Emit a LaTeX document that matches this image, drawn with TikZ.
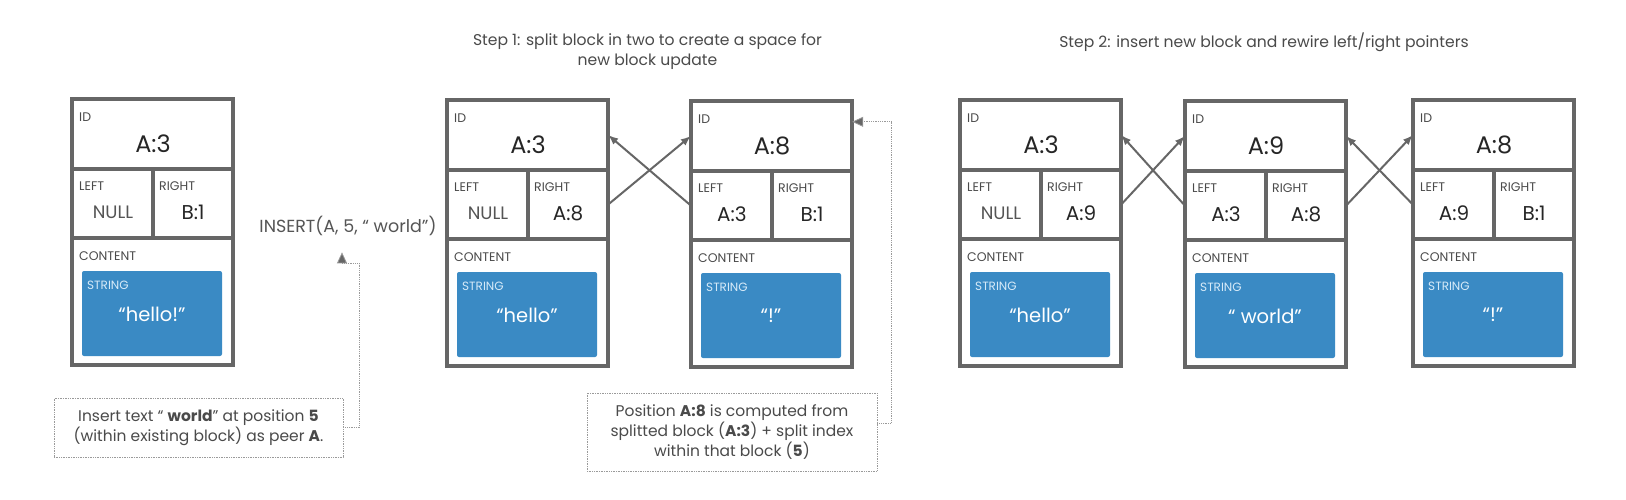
\documentclass[tikz,border=0pt]{standalone}
\usepackage{fontspec}
\setmainfont{Poppins}
\usepackage{tikz}
\usetikzlibrary{arrows.meta}
\definecolor{framegray}{HTML}{666666}
\definecolor{strblue}{HTML}{3A8AC4}
\definecolor{strlabel}{HTML}{D6EAF8}
\definecolor{txtgray}{HTML}{4A4A4A}
\definecolor{nullgray}{HTML}{555555}
\definecolor{dotgray}{HTML}{9A9A9A}

\newcommand{\nullval}{{\fontsize{18}{20}\selectfont\color{nullgray}NULL}}
\newcommand{\crdtblock}[7]{%
  \begin{scope}[shift={(#2,#3)}]
    \draw[frame] (0,0) rectangle (161,266);
    \draw[frame] (0,70) -- (161,70) (0,139) -- (161,139) (81,70) -- (81,139);
    \fill[strblue,rounded corners=2pt] (10,172) rectangle (150,257);
    \node[cell,minimum width=161pt,minimum height=70pt] (#1id) at (80.5,35) {};
    \node[cell,minimum width=81pt,minimum height=69pt] (#1l) at (40.5,104.5) {};
    \node[cell,minimum width=80pt,minimum height=69pt] (#1r) at (121,104.5) {};
    \node[tag] at (7,18) {ID};
    \node[idval] at (81,45) {#4};
    \node[tag] at (7,87) {LEFT};
    \node[tag] at (87,87) {RIGHT};
    \node[ptrval] at (41,113) {#5};
    \node[ptrval] at (121,113) {#6};
    \node[tag] at (7,157) {CONTENT};
    \node[strtag] at (15,186) {STRING};
    \node[strval] at (80,215) {#7};
  \end{scope}}

\begin{document}
\begin{tikzpicture}[x=1pt,y=-1pt]
	\tikzstyle{frame}=[draw=framegray,line width=4pt]
	\tikzstyle{cell}=[inner sep=0pt]
	\tikzstyle{tag}=[anchor=west,inner sep=0pt,text=txtgray,font=\fontsize{12.5}{14}\selectfont]
	\tikzstyle{strtag}=[anchor=west,inner sep=0pt,text=strlabel,font=\fontsize{12}{14}\selectfont]
	\tikzstyle{idval}=[inner sep=0pt,text=black!85,font=\fontsize{24}{28}\selectfont]
	\tikzstyle{ptrval}=[inner sep=0pt,text=black!85,font=\fontsize{20}{24}\selectfont]
	\tikzstyle{strval}=[inner sep=0pt,text=white,font=\fontsize{19.5}{22}\selectfont]
	\tikzstyle{title}=[align=center,text=txtgray,font=\fontsize{15.6}{20}\selectfont]
	\tikzstyle{note}=[draw=dotgray,densely dotted,line width=0.7pt,align=center,text=txtgray,font=\fontsize{15.5}{20}\selectfont]
	\tikzstyle{ptr}=[color=framegray,line width=2pt,-{Latex[length=10pt,width=8pt]}]
	\tikzstyle{dotlink}=[draw=dotgray,densely dotted,line width=0.8pt,-{Triangle[length=11pt,width=10pt,fill=framegray]}]

	\fill[white] (0,0) rectangle (1626,499);

	\node[title] (step1) at (647.5,51.5) {Step 1: split block in two to create a space for\\new block update};
	\node[title] (step2) at (1264,42) {Step 2: insert new block and rewire left/right pointers};

	\crdtblock{b0}{72}{99}{A:3}{\nullval}{B:1}{“hello!”}
	\crdtblock{b1}{447}{100}{A:3}{\nullval}{A:8}{“hello”}
	\crdtblock{b2}{691}{101}{A:8}{A:3}{B:1}{“!”}
	\crdtblock{b3}{960}{100}{A:3}{\nullval}{A:9}{“hello”}
	\crdtblock{b4}{1185}{101}{A:9}{A:3}{A:8}{“ world”}
	\crdtblock{b5}{1413}{100}{A:8}{A:9}{B:1}{“!”}

	\node[text=nullgray,font=\fontsize{17.5}{20}\selectfont] (insert) at (348,226) {INSERT(A, 5, “ world”)};
	\node[note,minimum width=289pt,minimum height=59pt] (note1) at (198.5,427.5) {Insert text “ \textbf{world}” at position \textbf{5}\\(within existing block) as peer \textbf{A}.};
	\node[note,minimum width=290pt,minimum height=78pt] (note2) at (732,432) {Position \textbf{A:8} is computed from\\splitted block (\textbf{A:3}) + split index\\within that block (\textbf{5})};

	\path[ptr]
		(b1r.east) edge (b2id.west)
		(b2l.west) edge (b1id.east)
		(b3r.east) edge (b4id.west)
		(b4l.west) edge (b3id.east)
		(b4r.east) edge (b5id.west)
		(b5l.west) edge (b4id.east);

	\draw[dotlink,shorten >=13pt] (note1.east) -- ++(16,0) -- ++(0,-164) -| ([xshift=-6pt]insert.south);
	\draw[dotlink] ([yshift=9pt]note2.east) -- ++(14,0) |- ([yshift=-21pt]b2id.north east);
\end{tikzpicture}
\end{document}
